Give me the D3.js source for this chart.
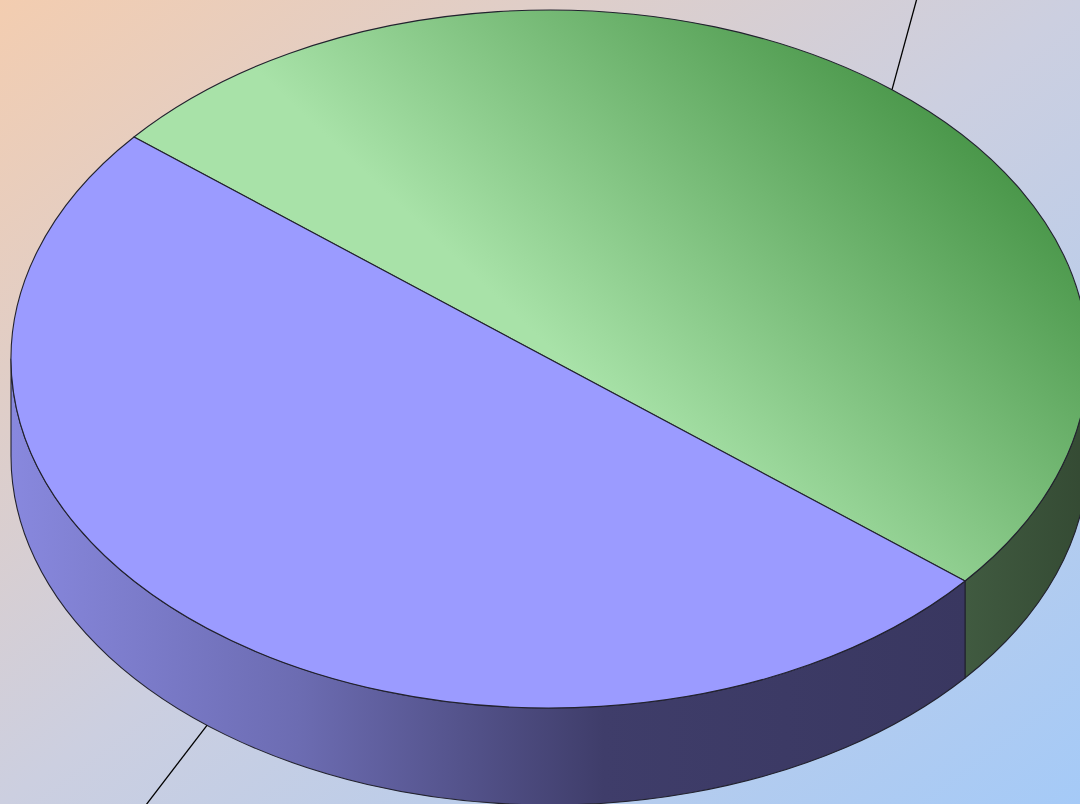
<!DOCTYPE html>
<html>
<head>
<meta charset="utf-8">
<script src="https://cdn.jsdelivr.net/npm/d3@7"></script>
<style>
  html, body { margin: 0; padding: 0; overflow: hidden; }
  svg { display: block; }
</style>
</head>
<body>
<svg id="chart" width="1080" height="804"></svg>
<script>
// ---- data ----
const categories = ["Green", "Blue"];
const values = [50, 50];
const sliceColors = ["#4a9a4a", "#9b9bff"];

// ---- layout ----
const W = 1080, H = 804;
const cx = 549.5, cy = 359, rx = 538.5, ry = 349, depth = 97;
const startOffset = (219.5 + 90) * Math.PI / 180; // d3 angle 0 is at 12 o'clock

const svg = d3.select("#chart");
const defs = svg.append("defs");

// background gradient (diagonal in box space)
const bg = defs.append("linearGradient").attr("id", "bg")
  .attr("x1", 0).attr("y1", 0).attr("x2", 1).attr("y2", 1);
bg.append("stop").attr("offset", 0).attr("stop-color", "#f3cdb0");
bg.append("stop").attr("offset", 0.5).attr("stop-color", "#cccfe0");
bg.append("stop").attr("offset", 1).attr("stop-color", "#a5caf7");
svg.append("rect").attr("width", W).attr("height", H).attr("fill", "url(#bg)");

// green top gradient
const gTop = defs.append("linearGradient").attr("id", "gTop")
  .attr("gradientUnits", "userSpaceOnUse")
  .attr("x1", 690).attr("y1", 480).attr("x2", 1030).attr("y2", 120);
gTop.append("stop").attr("offset", 0).attr("stop-color", "#a8e2a8");
gTop.append("stop").attr("offset", 1).attr("stop-color", "#3f8e3f");

// blue side gradient
const bSide = defs.append("linearGradient").attr("id", "bSide")
  .attr("gradientUnits", "userSpaceOnUse")
  .attr("x1", 11).attr("y1", 0).attr("x2", 967).attr("y2", 0);
bSide.append("stop").attr("offset", 0).attr("stop-color", "#8888de");
bSide.append("stop").attr("offset", 0.3).attr("stop-color", "#6c6cb2");
bSide.append("stop").attr("offset", 0.62).attr("stop-color", "#3f3d6a");
bSide.append("stop").attr("offset", 1).attr("stop-color", "#393760");

// green side gradient
const gSide = defs.append("linearGradient").attr("id", "gSide")
  .attr("gradientUnits", "userSpaceOnUse")
  .attr("x1", 967).attr("y1", 0).attr("x2", 1088).attr("y2", 0);
gSide.append("stop").attr("offset", 0).attr("stop-color", "#405a40");
gSide.append("stop").attr("offset", 1).attr("stop-color", "#344a33");

const topFill = ["url(#gTop)", sliceColors[1]];
const sideFill = ["url(#gSide)", "url(#bSide)"];

const pie = d3.pie().sort(null).value(d => d)
  .startAngle(startOffset).endAngle(startOffset + 2 * Math.PI);
const arcs = pie(values);

// d3 angle -> screen parametric angle
const toT = a => a - Math.PI / 2;
const pt = (t, dy = 0) => [cx + rx * Math.cos(t), cy + ry * Math.sin(t) + dy];
const norm = t => { let x = t % (2 * Math.PI); if (x < 0) x += 2 * Math.PI; return x; };

function sidePath(t1, t2) {
  const p1 = pt(t1), p2 = pt(t2), b2 = pt(t2, depth), b1 = pt(t1, depth);
  const large = (t2 - t1) > Math.PI ? 1 : 0;
  return `M${p1}A${rx},${ry} 0 ${large} 1 ${p2}L${b2}A${rx},${ry} 0 ${large} 0 ${b1}Z`;
}
function topPath(t1, t2) {
  const p1 = pt(t1), p2 = pt(t2);
  const large = (t2 - t1) > Math.PI ? 1 : 0;
  return `M${cx},${cy}L${p1}A${rx},${ry} 0 ${large} 1 ${p2}Z`;
}

const stroke = "#22222e";

// visible side segments (front half: t in [0, PI])
const gSides = svg.append("g");
arcs.forEach((d, i) => {
  let t1 = norm(toT(d.startAngle)), t2 = t1 + (d.endAngle - d.startAngle);
  [[t1, t2], [t1 - 2 * Math.PI, t2 - 2 * Math.PI]].forEach(([a, b]) => {
    const s = Math.max(a, 0), e = Math.min(b, Math.PI);
    if (e > s) {
      gSides.append("path").attr("d", sidePath(s, e))
        .attr("fill", sideFill[i]).attr("stroke", stroke)
        .attr("stroke-width", 1.1).attr("stroke-linejoin", "round");
    }
  });
});

// top faces
const gTops = svg.append("g");
arcs.forEach((d, i) => {
  const t1 = toT(d.startAngle), t2 = toT(d.endAngle);
  gTops.append("path").attr("d", topPath(t1, t2))
    .attr("fill", topFill[i]).attr("stroke", stroke)
    .attr("stroke-width", 1.1).attr("stroke-linejoin", "round");
});

// leader lines (labels lie outside the visible area)
const leaderDir = [[24, -88], [-62, 81]];
const leaderLen = [1.5, 1.5];
arcs.forEach((d, i) => {
  const tm = toT((d.startAngle + d.endAngle) / 2);
  const onFront = Math.sin(tm) > 0;
  const p = pt(tm, onFront ? depth : 0);
  const q = [p[0] + leaderDir[i][0] * leaderLen[i], p[1] + leaderDir[i][1] * leaderLen[i]];
  svg.append("line")
    .attr("x1", p[0]).attr("y1", p[1]).attr("x2", q[0]).attr("y2", q[1])
    .attr("stroke", "#000").attr("stroke-width", 1.3);
});
</script>
</body>
</html>
